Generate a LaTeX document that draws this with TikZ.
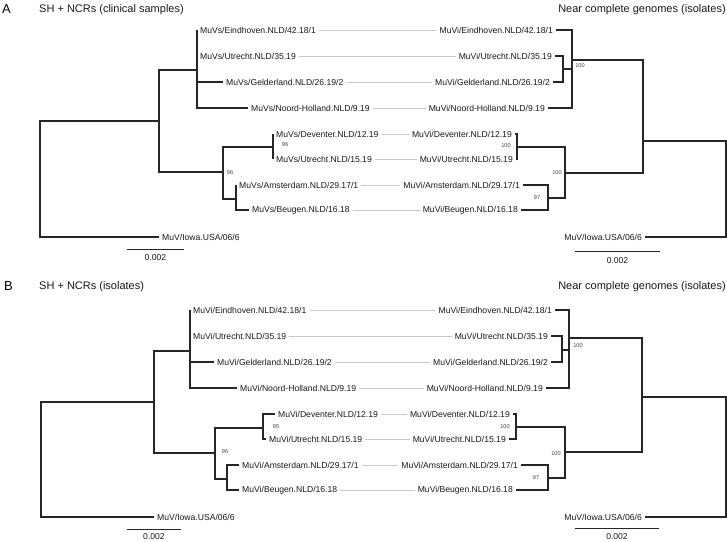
\documentclass[tikz,border=0pt]{standalone}
\usepackage{fontspec}
\setmainfont{Liberation Sans}
\usepackage{tikz}
\newcommand{\leafsize}{\fontsize{8.6}{10}\selectfont}
\newcommand{\bootsize}{\fontsize{5.6}{6}\selectfont}
\newcommand{\titlesize}{\fontsize{11}{13}\selectfont}

\begin{document}
\begin{tikzpicture}[x=1pt,y=-1pt,
		tree/.style={line width=1.2pt,black!85},
		link/.style={line width=0.6pt,black!22},
		leafL/.style={anchor=west,inner sep=3pt,font=\leafsize,text=black!90},
		leafR/.style={anchor=east,inner sep=3pt,font=\leafsize,text=black!90},
		boot/.style={inner sep=0pt,font=\bootsize,text=black!75},
		scalelbl/.style={inner sep=0pt,font=\leafsize,text=black!90},
		ttl/.style={inner sep=0pt,font=\titlesize,text=black!90},
		panel/.style={inner sep=0pt,anchor=west,font=\fontsize{13}{15}\selectfont}]
	\useasboundingbox (0,0) rectangle (727,541);
	%% titles
	\node[panel] (pA) at (2,9) {A};
	\node[ttl,anchor=west] (tA1) at (39,9.5) {SH + NCRs (clinical samples)};
	\node[ttl,anchor=east] (tA2) at (726,9.5) {Near complete genomes (isolates)};
	\node[panel] (pB) at (4,286) {B};
	\node[ttl,anchor=west] (tB1) at (39,287) {SH + NCRs (isolates)};
	\node[ttl,anchor=east] (tB2) at (726,287) {Near complete genomes (isolates)};

	%% panel A, left tree
	\node[leafL] (aEin) at (197,30) {MuVs/Eindhoven.NLD/42.18/1};
	\node[leafL] (aUt1) at (197,56) {MuVs/Utrecht.NLD/35.19};
	\node[leafL] (aGel) at (223,82) {MuVs/Gelderland.NLD/26.19/2};
	\node[leafL] (aNoo) at (248,108) {MuVs/Noord-Holland.NLD/9.19};
	\node[leafL] (aDev) at (273,134) {MuVs/Deventer.NLD/12.19};
	\node[leafL] (aUt2) at (273,159) {MuVs/Utrecht.NLD/15.19};
	\node[leafL] (aAms) at (236,185) {MuVs/Amsterdam.NLD/29.17/1};
	\node[leafL] (aBeu) at (249,210) {MuVs/Beugen.NLD/16.18};
	\node[leafL] (aIow) at (159,237) {MuV/Iowa.USA/06/6};
	\coordinate (aN0) at (40,179);
	\coordinate (aN1) at (159,121);
	\coordinate (aN2) at (197,70);
	\coordinate (aN3) at (223,172);
	\coordinate (aN4) at (273,147);
	\coordinate (aN5) at (236,199);
	\draw[tree] (aN1) -| (aN0);
	\draw[tree] (aIow.west) -| (aN0);
	\draw[tree] (aN2) -| (aN1);
	\draw[tree] (aN3) -| (aN1);
	\draw[tree] (aEin.west) -| (aN2);
	\draw[tree] (aUt1.west) -| (aN2);
	\draw[tree] (aGel.west) -| (aN2);
	\draw[tree] (aNoo.west) -| (aN2);
	\draw[tree] (aN4) -| (aN3);
	\draw[tree] (aN5) -| (aN3);
	\draw[tree] (aDev.west) -| (aN4);
	\draw[tree] (aUt2.west) -| (aN4);
	\draw[tree] (aAms.west) -| (aN5);
	\draw[tree] (aBeu.west) -| (aN5);
	\node[boot] (aB1) at (285,145) {96};
	\node[boot] (aB2) at (230,173) {96};

	%% panel A, right tree
	\node[leafR] (bEin) at (556,30) {MuVi/Eindhoven.NLD/42.18/1};
	\node[leafR] (bUt1) at (555,56) {MuVi/Utrecht.NLD/35.19};
	\node[leafR] (bGel) at (553,82) {MuVi/Gelderland.NLD/26.19/2};
	\node[leafR] (bNoo) at (548,108) {MuVi/Noord-Holland.NLD/9.19};
	\node[leafR] (bDev) at (515,134) {MuVi/Deventer.NLD/12.19};
	\node[leafR] (bUt2) at (516,159) {MuVi/Utrecht.NLD/15.19};
	\node[leafR] (bAms) at (523,185) {MuVi/Amsterdam.NLD/29.17/1};
	\node[leafR] (bBeu) at (521,210) {MuVi/Beugen.NLD/16.18};
	\node[leafR] (bIow) at (645,237) {MuV/Iowa.USA/06/6};
	\coordinate (bN0) at (726,189);
	\coordinate (bN1) at (643,141);
	\coordinate (bN2) at (572,60);
	\coordinate (bN3) at (563,69);
	\coordinate (bN4) at (565,173);
	\coordinate (bN5) at (517,147);
	\coordinate (bN6) at (548,198);
	\draw[tree] (bN1) -| (bN0);
	\draw[tree] (bIow.east) -| (bN0);
	\draw[tree] (bN2) -| (bN1);
	\draw[tree] (bN4) -| (bN1);
	\draw[tree] (bEin.east) -| (bN2);
	\draw[tree] (bN3) -| (bN2);
	\draw[tree] (bNoo.east) -| (bN2);
	\draw[tree] (bUt1.east) -| (bN3);
	\draw[tree] (bGel.east) -| (bN3);
	\draw[tree] (bN5) -| (bN4);
	\draw[tree] (bN6) -| (bN4);
	\draw[tree] (bDev.east) -| (bN5);
	\draw[tree] (bUt2.east) -| (bN5);
	\draw[tree] (bAms.east) -| (bN6);
	\draw[tree] (bBeu.east) -| (bN6);
	\node[boot] (bB1) at (580,66) {100};
	\node[boot] (bB2) at (506,146) {100};
	\node[boot] (bB3) at (557,173) {100};
	\node[boot] (bB4) at (537,198) {97};

	%% panel B, left tree
	\node[leafL] (cEin) at (190,310) {MuVi/Eindhoven.NLD/42.18/1};
	\node[leafL] (cUt1) at (190,336) {MuVi/Utrecht.NLD/35.19};
	\node[leafL] (cGel) at (214,362) {MuVi/Gelderland.NLD/26.19/2};
	\node[leafL] (cNoo) at (237,388) {MuVi/Noord-Holland.NLD/9.19};
	\node[leafL] (cDev) at (275,414) {MuVi/Deventer.NLD/12.19};
	\node[leafL] (cUt2) at (266,439) {MuVi/Utrecht.NLD/15.19};
	\node[leafL] (cAms) at (239,465) {MuVi/Amsterdam.NLD/29.17/1};
	\node[leafL] (cBeu) at (239,490) {MuVi/Beugen.NLD/16.18};
	\node[leafL] (cIow) at (154,517) {MuV/Iowa.USA/06/6};
	\coordinate (cN0) at (41,460);
	\coordinate (cN1) at (154,402);
	\coordinate (cN2) at (190,351);
	\coordinate (cN3) at (215,453);
	\coordinate (cN4) at (263,428);
	\coordinate (cN5) at (227,479);
	\draw[tree] (cN1) -| (cN0);
	\draw[tree] (cIow.west) -| (cN0);
	\draw[tree] (cN2) -| (cN1);
	\draw[tree] (cN3) -| (cN1);
	\draw[tree] (cEin.west) -| (cN2);
	\draw[tree] (cUt1.west) -| (cN2);
	\draw[tree] (cGel.west) -| (cN2);
	\draw[tree] (cNoo.west) -| (cN2);
	\draw[tree] (cN4) -| (cN3);
	\draw[tree] (cN5) -| (cN3);
	\draw[tree] (cDev.west) -| (cN4);
	\draw[tree] (cUt2.west) -| (cN4);
	\draw[tree] (cAms.west) -| (cN5);
	\draw[tree] (cBeu.west) -| (cN5);
	\node[boot] (cB1) at (276,427) {95};
	\node[boot] (cB2) at (225,452) {96};

	%% panel B, right tree
	\node[leafR] (dEin) at (555,310) {MuVi/Eindhoven.NLD/42.18/1};
	\node[leafR] (dUt1) at (551,336) {MuVi/Utrecht.NLD/35.19};
	\node[leafR] (dGel) at (551,362) {MuVi/Gelderland.NLD/26.19/2};
	\node[leafR] (dNoo) at (546,388) {MuVi/Noord-Holland.NLD/9.19};
	\node[leafR] (dDev) at (513,414) {MuVi/Deventer.NLD/12.19};
	\node[leafR] (dUt2) at (509,439) {MuVi/Utrecht.NLD/15.19};
	\node[leafR] (dAms) at (521,465) {MuVi/Amsterdam.NLD/29.17/1};
	\node[leafR] (dBeu) at (516,490) {MuVi/Beugen.NLD/16.18};
	\node[leafR] (dIow) at (645,517) {MuV/Iowa.USA/06/6};
	\coordinate (dN0) at (726,457);
	\coordinate (dN1) at (642,397);
	\coordinate (dN2) at (569,338);
	\coordinate (dN3) at (562,350);
	\coordinate (dN4) at (565,452);
	\coordinate (dN5) at (516,427);
	\coordinate (dN6) at (548,478);
	\draw[tree] (dN1) -| (dN0);
	\draw[tree] (dIow.east) -| (dN0);
	\draw[tree] (dN2) -| (dN1);
	\draw[tree] (dN4) -| (dN1);
	\draw[tree] (dEin.east) -| (dN2);
	\draw[tree] (dN3) -| (dN2);
	\draw[tree] (dNoo.east) -| (dN2);
	\draw[tree] (dUt1.east) -| (dN3);
	\draw[tree] (dGel.east) -| (dN3);
	\draw[tree] (dN5) -| (dN4);
	\draw[tree] (dN6) -| (dN4);
	\draw[tree] (dDev.east) -| (dN5);
	\draw[tree] (dUt2.east) -| (dN5);
	\draw[tree] (dAms.east) -| (dN6);
	\draw[tree] (dBeu.east) -| (dN6);
	\node[boot] (dB1) at (578,346) {100};
	\node[boot] (dB2) at (505,427) {100};
	\node[boot] (dB3) at (556,454) {100};
	\node[boot] (dB4) at (536,478) {97};

	%% grey links between the two trees
	\foreach \n in {Ein,Ut1,Gel,Noo,Dev,Ut2,Ams,Beu} {
		\draw[link] (a\n.east) -- (b\n.west);
		\draw[link] (c\n.east) -- (d\n.west);
	}

	%% scale bars
	\coordinate (aS1) at (127,249);
	\coordinate (aS2) at (184,249);
	\draw[tree,line width=1pt] (aS1) -- (aS2);
	\node[scalelbl] (aSl) at (155.5,258) {0.002};
	\coordinate (bS1) at (575,251);
	\coordinate (bS2) at (660,251);
	\draw[tree,line width=1pt] (bS1) -- (bS2);
	\node[scalelbl] (bSl) at (617.5,261) {0.002};
	\coordinate (cS1) at (127,529);
	\coordinate (cS2) at (181,529);
	\draw[tree,line width=1pt] (cS1) -- (cS2);
	\node[scalelbl] (cSl) at (154,536.5) {0.002};
	\coordinate (dS1) at (575,528);
	\coordinate (dS2) at (659,528);
	\draw[tree,line width=1pt] (dS1) -- (dS2);
	\node[scalelbl] (dSl) at (617,536.5) {0.002};
\end{tikzpicture}
\end{document}
